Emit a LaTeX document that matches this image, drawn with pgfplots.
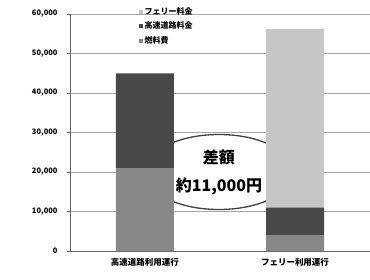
\documentclass[border=0pt]{standalone}
\usepackage{pgfplots}
\pgfplotsset{compat=1.18}
\usepackage{fontspec}
\setmainfont{Noto Sans CJK JP}
\usetikzlibrary{shapes.geometric}
\definecolor{fuel}{HTML}{888888}
\definecolor{toll}{HTML}{494949}
\definecolor{ferry}{HTML}{C6C6C6}
\begin{document}
\begin{tikzpicture}
\begin{axis}[
  scale only axis, width=300pt, height=237pt,
  ybar stacked, bar width=58pt,
  xmin=-0.5, xmax=1.5, ymin=0, ymax=60000,
  xtick={0,1}, xticklabels={高速道路利用運行,フェリー利用運行},
  xticklabel style={font=\bfseries\fontsize{8.5}{10}\selectfont, yshift=-1pt},
  major x tick style={draw=none},
  ytick={0,10000,20000,30000,40000,50000,60000},
  scaled y ticks=false,
  yticklabel style={font=\bfseries\fontsize{7.5}{8}\selectfont, xshift=-6pt, /pgf/number format/.cd, 1000 sep={,}},
  /pgf/number format/assume math mode=true,
  ymajorgrids, grid style={gray!70, line width=0.8pt},
  axis x line*=bottom, axis y line*=left,
  axis line style={gray!80!black, line width=0.8pt},
  tick style={gray!80!black},
  major tick length=3pt,
  tick align=outside,
  reverse legend,
  legend style={draw=none, fill=none, at={(0.225,1.04)}, anchor=north west,
    font=\bfseries\fontsize{8}{9}\selectfont, row sep=2pt, inner sep=1pt},
  legend cell align=left,
  legend image code/.code={\fill[#1] (0pt,-2pt) rectangle (4pt,2pt);},
  clip=false,
]
\addplot[fill=fuel, draw=none] coordinates {(0,21000) (1,4000)};
\addplot[fill=toll, draw=none] coordinates {(0,24000) (1,7000)};
\addplot[fill=ferry, draw=none] coordinates {(0,0) (1,45200)};
\legend{燃料費,高速道路料金,フェリー料金}
\node[ellipse, draw=black!75, line width=1.3pt, fill=white, minimum width=149pt, minimum height=75pt, inner sep=0pt, align=center, font=\bfseries\fontsize{16}{28}\selectfont]
  at (axis cs:0.493,20000) {差額\\約11,000円};
\end{axis}
\pgfresetboundingbox
\path (-70pt,-28pt) rectangle (300pt,251pt);
\end{tikzpicture}
\end{document}
